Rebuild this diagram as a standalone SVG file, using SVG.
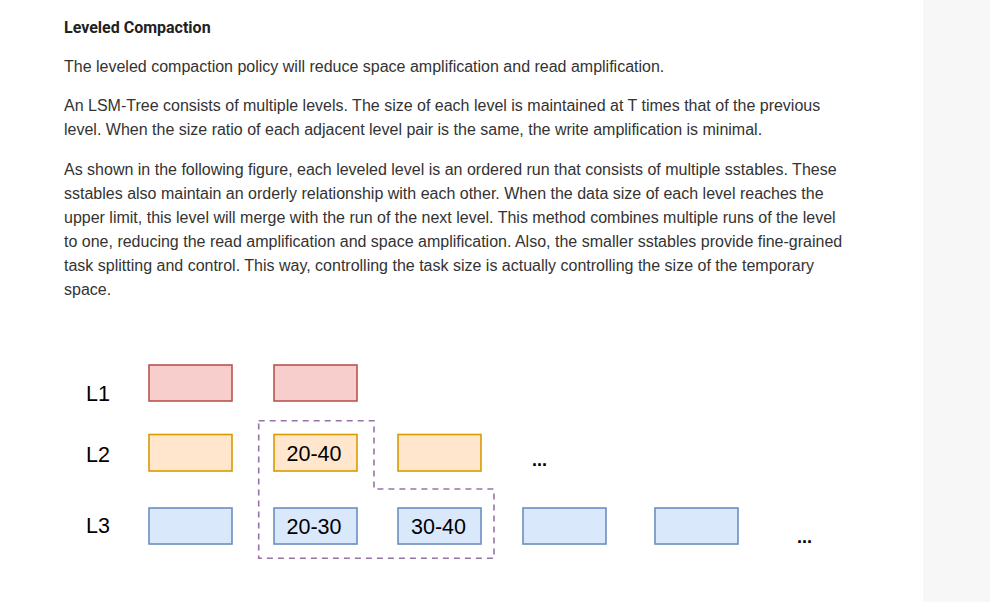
<svg xmlns="http://www.w3.org/2000/svg" width="990" height="602" viewBox="0 0 990 602">
<style>
.body{font-family:"Liberation Sans",Arial,sans-serif;font-size:16px;fill:#333}
.h{font-family:Roboto,"Liberation Sans",sans-serif;font-size:16px;font-weight:bold;fill:#222}
.lbl{font-family:"Liberation Sans",Arial,sans-serif;font-size:21.5px;fill:#000}
.l1{fill:#f8cecc;stroke:#b85450;stroke-width:1.6}
.l2{fill:#ffe6cc;stroke:#d79b00;stroke-width:1.6}
.l3{fill:#dae8fc;stroke:#6c8ebf;stroke-width:1.6}
.dots{font-family:"Liberation Sans",Arial,sans-serif;font-size:18px;font-weight:bold;fill:#000}
</style>
<rect width="990" height="602" fill="#fff"/>
<rect x="923" y="0" width="67" height="602" fill="#f7f7f7"/>
<text class="h" x="64" y="33">Leveled Compaction</text>
<text class="body" x="64" y="72">The leveled compaction policy will reduce space amplification and read amplification.</text>
<text class="body" x="64" y="111">An LSM-Tree consists of multiple levels. The size of each level is maintained at T times that of the previous</text>
<text class="body" x="64" y="135">level. When the size ratio of each adjacent level pair is the same, the write amplification is minimal.</text>
<text class="body" x="64" y="175">As shown in the following figure, each leveled level is an ordered run that consists of multiple sstables. These</text>
<text class="body" x="64" y="199">sstables also maintain an orderly relationship with each other. When the data size of each level reaches the</text>
<text class="body" x="64" y="223">upper limit, this level will merge with the run of the next level. This method combines multiple runs of the level</text>
<text class="body" x="64" y="247">to one, reducing the read amplification and space amplification. Also, the smaller sstables provide fine-grained</text>
<text class="body" x="64" y="271">task splitting and control. This way, controlling the task size is actually controlling the size of the temporary</text>
<text class="body" x="64" y="295">space.</text>
<g id="labels">
<text class="lbl" x="86" y="401">L1</text>
<text class="lbl" x="86" y="462">L2</text>
<text class="lbl" x="86" y="533">L3</text>
</g>
<g id="connectors">
<path d="M258.7 420.7 H374 V489 H494 V558.3 H258.7 Z" fill="none" stroke="#9673a6" stroke-width="1.6" stroke-dasharray="6 5"/>
</g>
<g id="l1a"><rect class="l1" x="149" y="365" width="83" height="36"/></g>
<g id="l1b"><rect class="l1" x="274" y="365" width="83" height="36"/></g>
<g id="l2a"><rect class="l2" x="149" y="434.5" width="83" height="36.5"/></g>
<g id="l2b"><rect class="l2" x="274" y="434.5" width="83" height="36.5"/><text class="lbl" x="314" y="460.5" text-anchor="middle">20-40</text></g>
<g id="l2c"><rect class="l2" x="398" y="434.5" width="83" height="36.5"/></g>
<g id="l3a"><rect class="l3" x="149" y="508" width="83" height="36"/></g>
<g id="l3b"><rect class="l3" x="274" y="508" width="83" height="36"/><text class="lbl" x="314" y="533.5" text-anchor="middle">20-30</text></g>
<g id="l3c"><rect class="l3" x="398" y="508" width="83" height="36"/><text class="lbl" x="438.5" y="533.5" text-anchor="middle">30-40</text></g>
<g id="l3d"><rect class="l3" x="523" y="508" width="83" height="36"/></g>
<g id="l3e"><rect class="l3" x="655" y="508" width="83" height="36"/></g>
<g id="more">
<text class="dots" x="532" y="466">...</text>
<text class="dots" x="797" y="543">...</text>
</g>
</svg>
